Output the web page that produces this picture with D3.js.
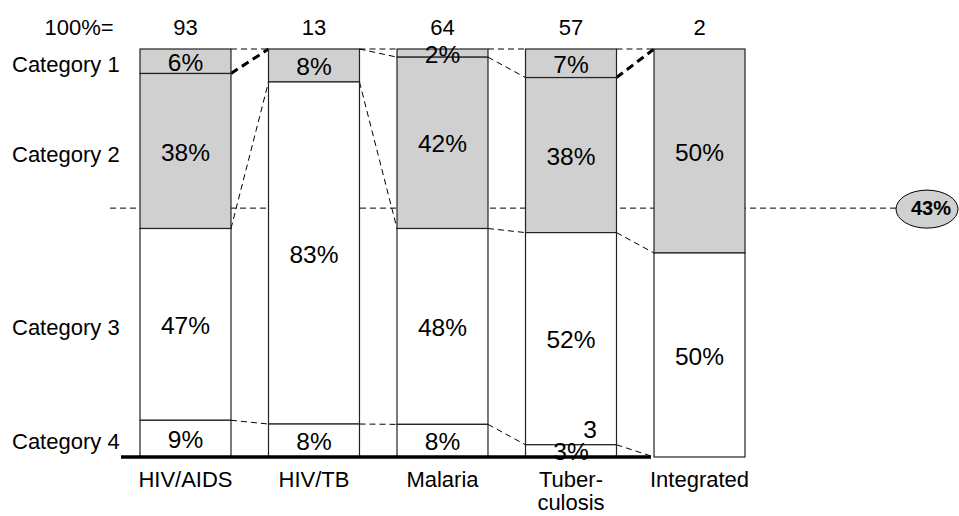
<!DOCTYPE html>
<html><head><meta charset="utf-8">
<script src="https://cdn.jsdelivr.net/npm/d3@7"></script>
<style>html,body{margin:0;padding:0;background:#fff}svg{display:block;font-family:"Liberation Sans",Arial,Helvetica,sans-serif}</style>
</head><body><svg id="c" width="959" height="516"></svg>
<script>
const programs = ["HIV/AIDS","HIV/TB","Malaria","Tuberculosis","Integrated"];
const programLabels = [["HIV/AIDS"],["HIV/TB"],["Malaria"],["Tuber-","culosis"],["Integrated"]];
const totals = [93,13,64,57,2];
const categories = ["Category 1","Category 2","Category 3","Category 4"];
const cat1 = [6,0,2,7,0];
const cat2 = [38,8,42,38,50];
const cat3 = [47,83,48,52,50];
const cat4 = [9,8,8,3,0];
const avgLinePos = 0.39;
const avgLabel = "43%";
const extraNote = {program:"Tuberculosis", text:"3"};

const series = [cat1,cat2,cat3,cat4];
const fills = ["#d0d0d0","#d0d0d0","#ffffff","#ffffff"];
const svg = d3.select("#c");
const x = d3.scaleBand().domain(programs).range([140,745]).paddingInner(0.292).paddingOuter(0);
const y = d3.scaleLinear().domain([0,1]).range([49,457]);
const bw = x.bandwidth();
const fs = 22;      // labels
const fsSeg = 24.5; // segment values

const stacks = programs.map((p,i)=>{
  const vals = series.map(s=>s[i]);
  const sum = d3.sum(vals);
  let acc = 0;
  const b = [0];
  const segs = vals.map((v,k)=>{const y0=acc/sum; acc+=v; const y1=acc/sum; b.push(y1); return {p,k,v,y0,y1};});
  return {p,segs,b};
});

// average dashed line
svg.append("line").attr("x1",110).attr("x2",897).attr("y1",y(avgLinePos)).attr("y2",y(avgLinePos))
  .attr("stroke","#000").attr("stroke-width",1).attr("stroke-dasharray","6,4");

// connectors
for(let i=0;i<stacks.length-1;i++){
  const a=stacks[i], c=stacks[i+1];
  for(let k=0;k<a.b.length-1;k++){
    const ya=a.b[k], yc=c.b[k];
    const thick = (k===1 && yc===0 && ya>0);
    svg.append("line").attr("x1",x(a.p)+bw).attr("x2",x(c.p))
      .attr("y1",y(ya)).attr("y2",y(yc))
      .attr("stroke","#000").attr("stroke-width",thick?3:1)
      .attr("stroke-dasharray",thick?"8,5":"6,4");
  }
}

// bars
const g = svg.append("g");
stacks.forEach(st=>{
  st.segs.forEach(s=>{
    if(s.v<=0) return;
    g.append("rect").attr("x",x(s.p)).attr("y",y(s.y0)).attr("width",bw).attr("height",y(s.y1)-y(s.y0))
      .attr("fill",fills[s.k]).attr("stroke","#222").attr("stroke-width",1.2);
  });
});
stacks.forEach(st=>{
  st.segs.forEach(s=>{
    if(s.v<=0) return;
    g.append("text").attr("x",x(s.p)+bw/2).attr("y",(y(s.y0)+y(s.y1))/2+1).attr("dy","0.35em")
      .attr("text-anchor","middle").attr("font-size",fsSeg).attr("fill","#000").text(s.v+"%");
  });
});

// extra note
svg.append("text").attr("x",x(extraNote.program)+bw/2+19).attr("y",y(stacks[3].b[3])-15).attr("dy","0.35em")
  .attr("text-anchor","middle").attr("font-size",fsSeg).text(extraNote.text);

// baseline
svg.append("line").attr("x1",121).attr("x2",651).attr("y1",y(1)).attr("y2",y(1)).attr("stroke","#000").attr("stroke-width",3.5);

// category labels aligned with first bar
stacks[0].segs.forEach((s,k)=>{
  svg.append("text").attr("x",12).attr("y",(y(s.y0)+y(s.y1))/2+3).attr("dy","0.35em")
    .attr("font-size",fs).text(categories[k]);
});

// totals
svg.append("text").attr("x",79).attr("y",27).attr("dy","0.35em").attr("text-anchor","middle").attr("font-size",fs).text("100%=");
programs.forEach((p,i)=>{
  svg.append("text").attr("x",x(p)+bw/2).attr("y",27).attr("dy","0.35em").attr("text-anchor","middle").attr("font-size",fs).text(totals[i]);
});

// x labels
programs.forEach((p,i)=>{
  const t = svg.append("text").attr("x",x(p)+bw/2).attr("y",479).attr("text-anchor","middle").attr("font-size",fs);
  programLabels[i].forEach((l,j)=>{
    t.append("tspan").attr("x",x(p)+bw/2).attr("dy",j===0?"0.35em":"23px").text(l);
  });
});

// avg bubble
svg.append("ellipse").attr("cx",927).attr("cy",y(avgLinePos)+1).attr("rx",31).attr("ry",19)
  .attr("fill","#d0d0d0").attr("stroke","#000").attr("stroke-width",1);
svg.append("text").attr("x",931).attr("y",y(avgLinePos)).attr("dy","0.35em").attr("text-anchor","middle")
  .attr("font-size",20).attr("font-weight","bold").text(avgLabel);
</script></body></html>
